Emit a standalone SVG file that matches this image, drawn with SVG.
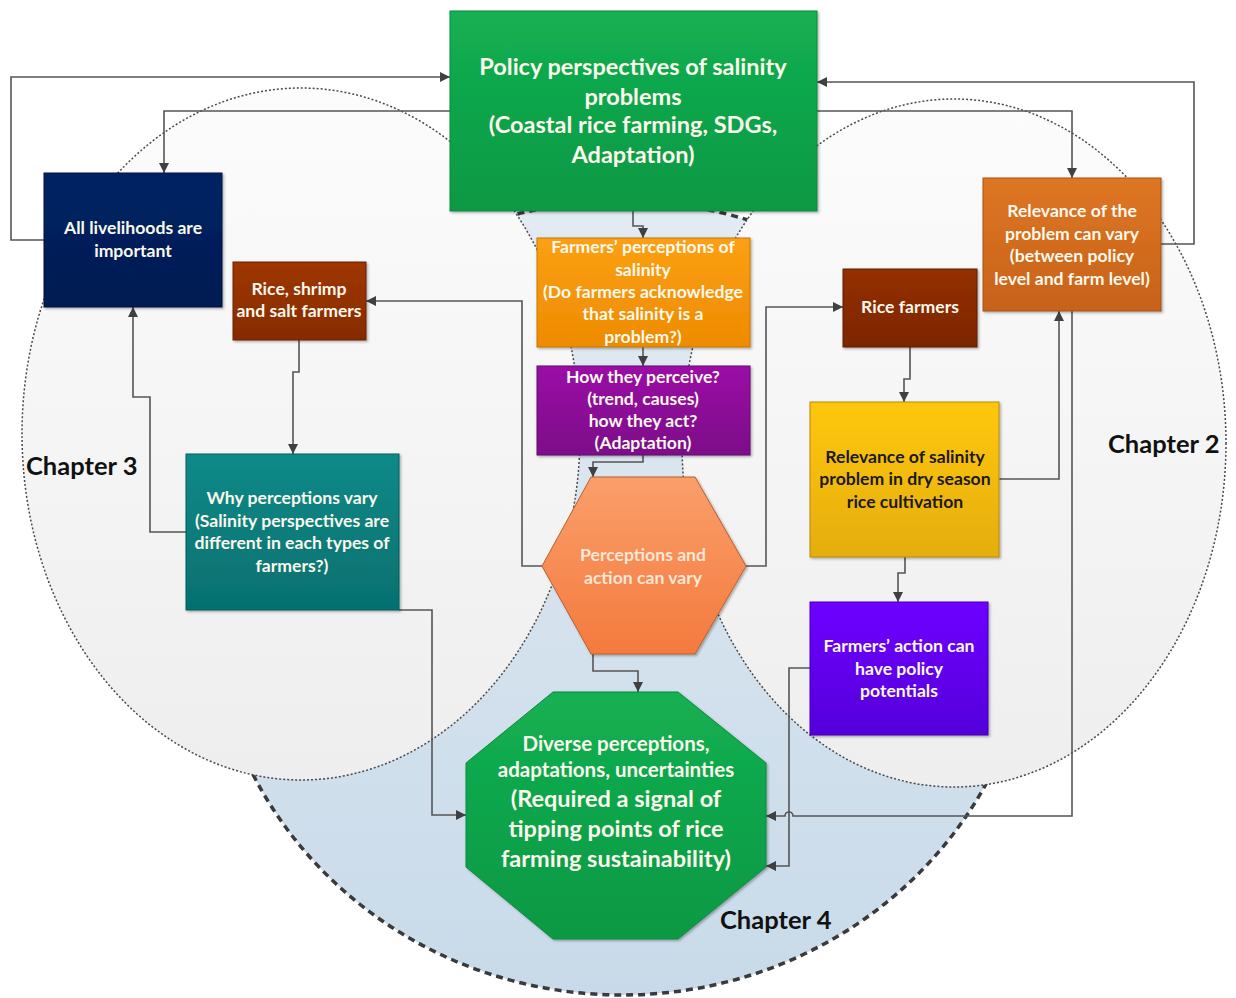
<svg xmlns="http://www.w3.org/2000/svg" width="1236" height="998" viewBox="0 0 1236 998">
<defs>
<style>
.t{font-family:Lato,"Open Sans","Liberation Sans",sans-serif;font-weight:bold;text-anchor:middle;fill:#fbf8ec}
.s{font-size:17.6px}
.dk{fill:#1a1a1a}
.ch{font-family:Lato,"Open Sans","Liberation Sans",sans-serif;font-weight:bold;font-size:25.5px;fill:#111}
.cn{fill:none;stroke:#555;stroke-width:1.6}
</style>
<marker id="ah" viewBox="0 0 10 10" refX="10" refY="5" markerWidth="11" markerHeight="10" markerUnits="userSpaceOnUse" orient="auto">
<path d="M0,0 L10,5 L0,10 z" fill="#404040"/>
</marker>
<filter id="sh" x="-5%" y="-5%" width="115%" height="115%">
<feDropShadow dx="1.5" dy="1.5" stdDeviation="1.2" flood-color="#000" flood-opacity="0.3"/>
</filter>
<linearGradient id="gGray" x1="0" y1="0" x2="0" y2="1"><stop offset="0" stop-color="#fcfcfc"/><stop offset="1" stop-color="#eeeeee"/></linearGradient>
<linearGradient id="gBlue" x1="0" y1="0" x2="0" y2="1"><stop offset="0" stop-color="#e3ebf3"/><stop offset="1" stop-color="#c8dae9"/></linearGradient>
<linearGradient id="gGreen" x1="0" y1="0" x2="0" y2="1"><stop offset="0" stop-color="#13b052"/><stop offset="1" stop-color="#0c9843"/></linearGradient>
<linearGradient id="gNavy" x1="0" y1="0" x2="0" y2="1"><stop offset="0" stop-color="#032463"/><stop offset="1" stop-color="#001a52"/></linearGradient>
<linearGradient id="gBrown" x1="0" y1="0" x2="0" y2="1"><stop offset="0" stop-color="#9e3702"/><stop offset="1" stop-color="#862b00"/></linearGradient>
<linearGradient id="gTeal" x1="0" y1="0" x2="0" y2="1"><stop offset="0" stop-color="#0b8a89"/><stop offset="1" stop-color="#06706f"/></linearGradient>
<linearGradient id="gOrange" x1="0" y1="0" x2="0" y2="1"><stop offset="0" stop-color="#fba014"/><stop offset="1" stop-color="#ee8b00"/></linearGradient>
<linearGradient id="gPurple" x1="0" y1="0" x2="0" y2="1"><stop offset="0" stop-color="#9a10a6"/><stop offset="1" stop-color="#7c0a88"/></linearGradient>
<linearGradient id="gHex" x1="0" y1="0" x2="0" y2="1"><stop offset="0" stop-color="#fa9f6a"/><stop offset="1" stop-color="#f47a3e"/></linearGradient>
<linearGradient id="gRice" x1="0" y1="0" x2="0" y2="1"><stop offset="0" stop-color="#943000"/><stop offset="1" stop-color="#7c2500"/></linearGradient>
<linearGradient id="gRel" x1="0" y1="0" x2="0" y2="1"><stop offset="0" stop-color="#de7623"/><stop offset="1" stop-color="#c7621a"/></linearGradient>
<linearGradient id="gYel" x1="0" y1="0" x2="0" y2="1"><stop offset="0" stop-color="#ffc80c"/><stop offset="1" stop-color="#e5ad08"/></linearGradient>
<linearGradient id="gViol" x1="0" y1="0" x2="0" y2="1"><stop offset="0" stop-color="#6e00ff"/><stop offset="1" stop-color="#5400da"/></linearGradient>
</defs>
<rect width="1236" height="998" fill="#ffffff"/>
<g id="regions">
<ellipse id="chapter4-area" cx="622" cy="598" rx="412" ry="397" fill="url(#gBlue)" stroke="#3a3a3a" stroke-width="3.5" stroke-dasharray="7 5"/>
<ellipse id="chapter3-area" cx="301" cy="434" rx="279" ry="346" fill="url(#gGray)" stroke="#4a4a4a" stroke-width="1.5" stroke-dasharray="2 2"/>
<ellipse id="chapter2-area" cx="954" cy="443" rx="272" ry="344" fill="url(#gGray)" stroke="#4a4a4a" stroke-width="1.5" stroke-dasharray="2 2"/>
<text class="ch" x="26" y="475">Chapter 3</text>
<text class="ch" x="1108" y="453">Chapter 2</text>
<text class="ch" x="720" y="929">Chapter 4</text>
</g>
<g id="connectors">
<path class="cn" d="M44,240 H11 V77 H450" marker-end="url(#ah)"/>
<path class="cn" d="M450,111 H164 V173" marker-end="url(#ah)"/>
<path class="cn" d="M186,532 H150 V397 H133 V307" marker-end="url(#ah)"/>
<path class="cn" d="M299,340 V372 H293 V454" marker-end="url(#ah)"/>
<path class="cn" d="M542,566 H522 V301 H366" marker-end="url(#ah)"/>
<path class="cn" d="M746,566 H766 V307 H843" marker-end="url(#ah)"/>
<path class="cn" d="M633,211 V226 H643 V238" marker-end="url(#ah)"/>
<path class="cn" d="M643,347 V366" marker-end="url(#ah)"/>
<path class="cn" d="M643,455 V462 H593 V477" marker-end="url(#ah)"/>
<path class="cn" d="M593,654 V671 H638 V692" marker-end="url(#ah)"/>
<path class="cn" d="M399,610 H432 V815 H466" marker-end="url(#ah)"/>
<path class="cn" d="M910,347 V379 H904 V402" marker-end="url(#ah)"/>
<path class="cn" d="M999,479 H1059 V311" marker-end="url(#ah)"/>
<path class="cn" d="M905,557 V573 H898 V602" marker-end="url(#ah)"/>
<path class="cn" d="M1161,244 H1194 V82 H817" marker-end="url(#ah)"/>
<path class="cn" d="M817,111 H1072 V178" marker-end="url(#ah)"/>
<path class="cn" d="M1072,311 V816 H793 A4,4 0 0 0 785,816 H766" marker-end="url(#ah)"/>
<path class="cn" d="M810,668 H789 V866 H766" marker-end="url(#ah)"/>
</g>
<g id="policy">
<rect x="450" y="11" width="367" height="200" fill="url(#gGreen)" stroke="#0c8a3c" filter="url(#sh)"/>
<text class="t" font-size="23.5" x="633" y="75">Policy perspectives of salinity</text>
<text class="t" font-size="23.5" x="633" y="105">problems</text>
<text class="t" font-size="23.5" x="633" y="133">(Coastal rice farming, SDGs,</text>
<text class="t" font-size="23.5" x="633" y="163">Adaptation)</text>
</g>
<g id="livelihoods">
<rect x="44" y="173" width="178" height="134" fill="url(#gNavy)" stroke="#001440" filter="url(#sh)"/>
<text class="t s" x="133" y="234">All livelihoods are</text>
<text class="t s" x="133" y="257">important</text>
</g>
<g id="rice-shrimp-salt">
<rect x="233" y="262" width="133" height="78" fill="url(#gBrown)" stroke="#6e2200" filter="url(#sh)"/>
<text class="t s" x="299" y="295">Rice, shrimp</text>
<text class="t s" x="299" y="317">and salt farmers</text>
</g>
<g id="why-vary">
<rect x="186" y="454" width="213" height="156" fill="url(#gTeal)" stroke="#055d5c" filter="url(#sh)"/>
<text class="t s" x="292" y="504">Why perceptions vary</text>
<text class="t s" x="292" y="527">(Salinity perspectives are</text>
<text class="t s" x="292" y="549">different in each types of</text>
<text class="t s" x="292" y="572">farmers?)</text>
</g>
<g id="farmers-perceptions">
<rect x="537" y="238" width="213" height="109" fill="url(#gOrange)" stroke="#c87400" filter="url(#sh)"/>
<text class="t s" x="643" y="253">Farmers’ perceptions of</text>
<text class="t s" x="643" y="276">salinity</text>
<text class="t s" x="643" y="298">(Do farmers acknowledge</text>
<text class="t s" x="643" y="320">that salinity is a</text>
<text class="t s" x="643" y="343">problem?)</text>
</g>
<g id="how-perceive">
<rect x="537" y="366" width="213" height="89" fill="url(#gPurple)" stroke="#64076e" filter="url(#sh)"/>
<text class="t s" x="643" y="383">How they perceive?</text>
<text class="t s" x="643" y="405">(trend, causes)</text>
<text class="t s" x="643" y="427">how they act?</text>
<text class="t s" x="643" y="449">(Adaptation)</text>
</g>
<g id="perceptions-action">
<polygon points="591,477 695,477 746,566 695,654 591,654 542,566" fill="url(#gHex)" stroke="#b9602f" filter="url(#sh)"/>
<text class="t s" x="643" y="561" style="fill:#fbe6d6">Perceptions and</text>
<text class="t s" x="643" y="584" style="fill:#fbe6d6">action can vary</text>
</g>
<g id="diverse">
<polygon points="553,692 678,692 766,763 766,867 678,939 553,939 466,867 466,763" fill="url(#gGreen)" stroke="#0c8a3c" filter="url(#sh)"/>
<text class="t" font-size="20.5" x="616" y="751">Diverse perceptions,</text>
<text class="t" font-size="20.5" x="616" y="777">adaptations, uncertainties</text>
<text class="t" font-size="23.5" x="616" y="807">(Required a signal of</text>
<text class="t" font-size="23.5" x="616" y="837">tipping points of rice</text>
<text class="t" font-size="23.5" x="616" y="867">farming sustainability)</text>
</g>
<g id="rice-farmers">
<rect x="843" y="269" width="134" height="78" fill="url(#gRice)" stroke="#5e1c00" filter="url(#sh)"/>
<text class="t s" x="910" y="313">Rice farmers</text>
</g>
<g id="relevance-problem">
<rect x="983" y="178" width="178" height="133" fill="url(#gRel)" stroke="#a65214" filter="url(#sh)"/>
<text class="t s" x="1072" y="217">Relevance of the</text>
<text class="t s" x="1072" y="240">problem can vary</text>
<text class="t s" x="1072" y="262">(between policy</text>
<text class="t s" x="1072" y="285">level and farm level)</text>
</g>
<g id="relevance-dry">
<rect x="810" y="402" width="189" height="155" fill="url(#gYel)" stroke="#b68a06" filter="url(#sh)"/>
<text class="t s dk" x="905" y="463">Relevance of salinity</text>
<text class="t s dk" x="905" y="485">problem in dry season</text>
<text class="t s dk" x="905" y="508">rice cultivation</text>
</g>
<g id="action-policy">
<rect x="810" y="602" width="178" height="133" fill="url(#gViol)" stroke="#4400b0" filter="url(#sh)"/>
<text class="t s" x="899" y="652">Farmers’ action can</text>
<text class="t s" x="899" y="675">have policy</text>
<text class="t s" x="899" y="697">potentials</text>
</g>
</svg>
